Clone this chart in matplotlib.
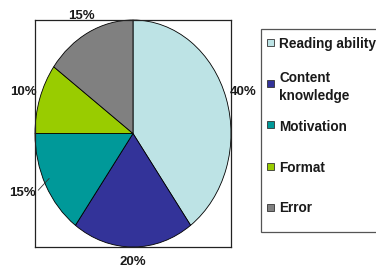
import numpy as np
import matplotlib
matplotlib.use("Agg")
import matplotlib.pyplot as plt
from matplotlib.patches import Rectangle

categories = ["Reading ability", "Content\nknowledge", "Motivation", "Format", "Error"]
values = [40, 20, 15, 10, 15]
colors = ["#BDE3E5", "#333399", "#009999", "#99CC00", "#808080"]
label_r = [1.18, 1.13, 1.27, 1.18, 1.16]

plt.rcParams['font.family'] = ['Liberation Sans', 'DejaVu Sans']

fig = plt.figure(figsize=(3.76, 2.70), dpi=100)
W, H = 376, 270
ax = fig.add_axes([35 / W, 1 - 247 / H, 196 / W, 227 / H])

wedges, _ = ax.pie(values, colors=colors, startangle=90, counterclock=False,
                   wedgeprops=dict(edgecolor="black", linewidth=0.6))
ax.set_aspect('auto')
ax.set_xlim(-1, 1)
ax.set_ylim(-1, 1)
ax.set_frame_on(True)
for s in ax.spines.values():
    s.set_visible(True)
    s.set_color("#222222")
    s.set_linewidth(0.9)
ax.set_xticks([])
ax.set_yticks([])

for i, (w, v) in enumerate(zip(wedges, values)):
    th = np.deg2rad((w.theta1 + w.theta2) / 2)
    r = label_r[i]
    tx, ty = r * np.cos(th), r * np.sin(th)
    if i == 2:
        ty = ty + 0.05
        ax.annotate(f"{v}%", xy=(0.96 * np.cos(th), 0.96 * np.sin(th) + 0.04),
                    xytext=(tx, ty), ha="center", va="center",
                    fontsize=9.5, fontweight="bold", color="#1a1a1a",
                    annotation_clip=False,
                    arrowprops=dict(arrowstyle="-", color="#333333", lw=0.6,
                                    shrinkA=0, shrinkB=0,
                                    relpos=(1.0, 0.5)))
    else:
        ax.text(tx, ty, f"{v}%", ha="center", va="center", fontsize=9.5,
                fontweight="bold", color="#1a1a1a", clip_on=False)

# legend box
fig.add_artist(Rectangle((261 / W, 1 - 232 / H), (378 - 261) / W, (232 - 29) / H,
                         transform=fig.transFigure, facecolor="white",
                         edgecolor="#555555", linewidth=0.9))
marker_y = [42.5, 83.5, 125, 166.5, 207]
for lab, col, my in zip(categories, colors, marker_y):
    fig.add_artist(Rectangle((267 / W, 1 - (my + 3.5) / H), 7 / W, 7 / H,
                             transform=fig.transFigure, facecolor=col,
                             edgecolor="#333333", linewidth=0.6))
    fig.text(279 / W, 1 - my / H, lab, ha="left", va="center_baseline",
             fontsize=9.8, fontweight="bold", color="#1a1a1a",
             linespacing=1.35)

fig.savefig("out.png", dpi=100)
